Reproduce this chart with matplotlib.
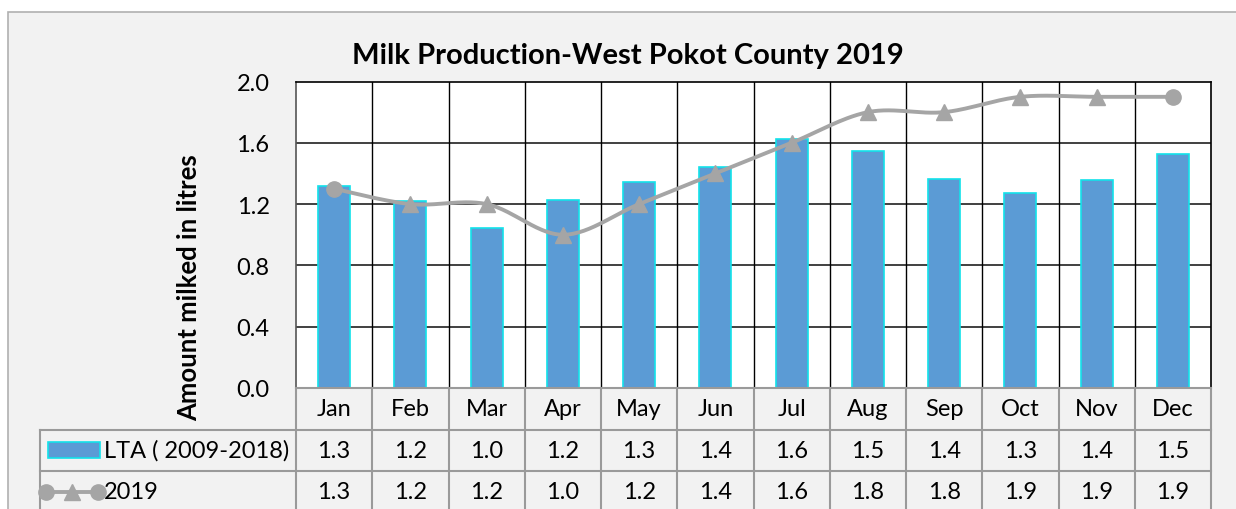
import numpy as np
import matplotlib
matplotlib.use("Agg")
import matplotlib.pyplot as plt
from matplotlib.lines import Line2D
from matplotlib.patches import Rectangle
from matplotlib.transforms import blended_transform_factory

# ---- data ----
months = ["Jan", "Feb", "Mar", "Apr", "May", "Jun",
          "Jul", "Aug", "Sep", "Oct", "Nov", "Dec"]
lta = [1.316, 1.22, 1.046, 1.23, 1.346, 1.444, 1.627, 1.545, 1.366, 1.275, 1.355, 1.525]
y2019 = [1.3, 1.2, 1.2, 1.0, 1.2, 1.4, 1.6, 1.8, 1.8, 1.9, 1.9, 1.9]
yticks = [0.0, 0.4, 0.8, 1.2, 1.6, 2.0]
lta_label = "LTA ( 2009-2018)"
y2019_label = "2019"
title = "Milk Production-West Pokot County 2019"
ylabel = "Amount milked in litres"

# ---- style ----
W, H = 1236, 510
FONT = "Lato"
BAR_FILL = "#5B9BD5"
BAR_EDGE = "#12E2EA"
LINE_C = "#A5A5A5"
TABLE_C = "#9A9A9A"
BG = "#F2F2F2"
FS = 17

plt.rcParams["font.family"] = [FONT, "DejaVu Sans"]

fig = plt.figure(figsize=(W / 100, H / 100), dpi=100)
fig.patch.set_facecolor("white")


def fx(x):
    return x / W


def fy(y):
    return 1 - y / H


# chart area background with light border (extends past right/bottom edges)
fig.add_artist(Rectangle((fx(8), fy(530)), fx(1260) - fx(8), fy(13) - fy(530),
                         transform=fig.transFigure, facecolor=BG,
                         edgecolor="#B0B0B0", linewidth=1.2, zorder=0))

# plot area in pixels
L, R, T, B = 296, 1211, 82.5, 389
ax = fig.add_axes([fx(L), fy(B), fx(R) - fx(L), fy(T) - fy(B)])
ax.set_facecolor("white")
n = len(months)
x = np.arange(n)
ax.set_xlim(-0.5, n - 0.5)
ax.set_ylim(0, 2.0)

# grid
for yv in yticks[1:-1]:
    ax.axhline(yv, color="#404040", linewidth=1.4, zorder=1)
for xv in np.arange(0.5, n - 0.5, 1.0):
    ax.axvline(xv, color="#000000", linewidth=1.0, zorder=1)
for side in ["top", "right"]:
    ax.spines[side].set_color("#000000")
    ax.spines[side].set_linewidth(1.2)
ax.spines["left"].set_color("#555555")
ax.spines["left"].set_linewidth(1.2)
ax.spines["bottom"].set_color(TABLE_C)
ax.spines["bottom"].set_linewidth(1.5)

# bars
ax.bar(x, lta, width=0.42, color=BAR_FILL, edgecolor=BAR_EDGE,
       linewidth=1.2, zorder=2)

# smoothed line (cubic Bezier through the points, Catmull-Rom tangents)
px = np.array(x, dtype=float)
py = np.array(y2019, dtype=float)
P = np.column_stack([px, py])
Pe = np.vstack([P[0], P, P[-1]])
t = np.linspace(0, 1, 30)[:, None]
curve = []
for i in range(n - 1):
    p0, p1, p2, p3 = Pe[i], Pe[i + 1], Pe[i + 2], Pe[i + 3]
    b1 = p1 + (p2 - p0) / 6
    b2 = p2 - (p3 - p1) / 6
    seg = ((1 - t) ** 3) * p1 + 3 * ((1 - t) ** 2) * t * b1 + 3 * (1 - t) * t ** 2 * b2 + t ** 3 * p2
    curve.append(seg)
curve = np.vstack(curve)
ax.plot(curve[:, 0], curve[:, 1], color=LINE_C, linewidth=2.8, zorder=3,
        solid_capstyle="round")
ax.plot(px[1:-1], py[1:-1], linestyle="none", marker="^", markersize=11,
        color=LINE_C, zorder=4)
ax.plot(px[[0, -1]], py[[0, -1]], linestyle="none", marker="o", markersize=11,
        color=LINE_C, zorder=4)

# axes ticks and labels
ax.set_xticks([])
ax.set_yticks(yticks)
ax.set_yticklabels([f"{v:.1f}" for v in yticks], fontsize=FS)
ax.tick_params(axis="y", length=0, pad=19)

fig.text(fx(628), fy(56), title, ha="center", va="center",
         fontsize=21, fontweight="bold")
fig.text(fx(189), fy(288), ylabel, ha="center", va="center", rotation=90,
         fontsize=18.5, fontweight="bold")

# ---- data table under the plot ----
rows = [389, 430.5, 472, 513.5]
ftr = fig.transFigure
btr = blended_transform_factory(ax.transData, fig.transFigure)


def hline(x0, x1, y):
    fig.add_artist(Line2D([fx(x0), fx(x1)], [fy(y), fy(y)], transform=ftr,
                          color=TABLE_C, linewidth=1.5, zorder=5))


def vline(xpix, y0, y1):
    fig.add_artist(Line2D([fx(xpix), fx(xpix)], [fy(y0), fy(y1)], transform=ftr,
                          color=TABLE_C, linewidth=1.5, zorder=5))


hline(40, R, rows[1])
hline(40, R, rows[2])
vline(40, rows[1], rows[3])
for k in range(n + 1):
    xb = k - 0.5
    fig.add_artist(Line2D([xb, xb], [fy(rows[0]), fy(rows[3])], transform=btr,
                          color=TABLE_C, linewidth=1.5, zorder=5))

centers = [(rows[i] + rows[i + 1]) / 2 for i in range(3)]
for i, m in enumerate(months):
    fig.text(i, fy(centers[0]), m, transform=btr, ha="center", va="center",
             fontsize=FS)
    fig.text(i, fy(centers[1]), f"{lta[i]:.1f}", transform=btr, ha="center",
             va="center", fontsize=FS)
    fig.text(i, fy(centers[2]), f"{y2019[i]:.1f}", transform=btr, ha="center",
             va="center", fontsize=FS)

# legend keys inside the table
fig.add_artist(Rectangle((fx(48), fy(centers[1] + 8)), fx(100) - fx(48),
                         fy(centers[1] - 8) - fy(centers[1] + 8), transform=ftr,
                         facecolor=BAR_FILL, edgecolor=BAR_EDGE, linewidth=1.2,
                         zorder=6))
fig.text(fx(104), fy(centers[1]), lta_label, ha="left", va="center", fontsize=FS)
fig.add_artist(Line2D([fx(46), fx(98)], [fy(centers[2])] * 2, transform=ftr,
                      color=LINE_C, linewidth=2.8, zorder=6))
fig.add_artist(Line2D([fx(46), fx(98)], [fy(centers[2])] * 2, transform=ftr,
                      linestyle="none", marker="o", markersize=11,
                      color=LINE_C, zorder=7))
fig.add_artist(Line2D([fx(72)], [fy(centers[2])], transform=ftr,
                      linestyle="none", marker="^", markersize=11,
                      color=LINE_C, zorder=7))
fig.text(fx(104), fy(centers[2]), y2019_label, ha="left", va="center", fontsize=FS)

fig.savefig("out.png", dpi=100)
